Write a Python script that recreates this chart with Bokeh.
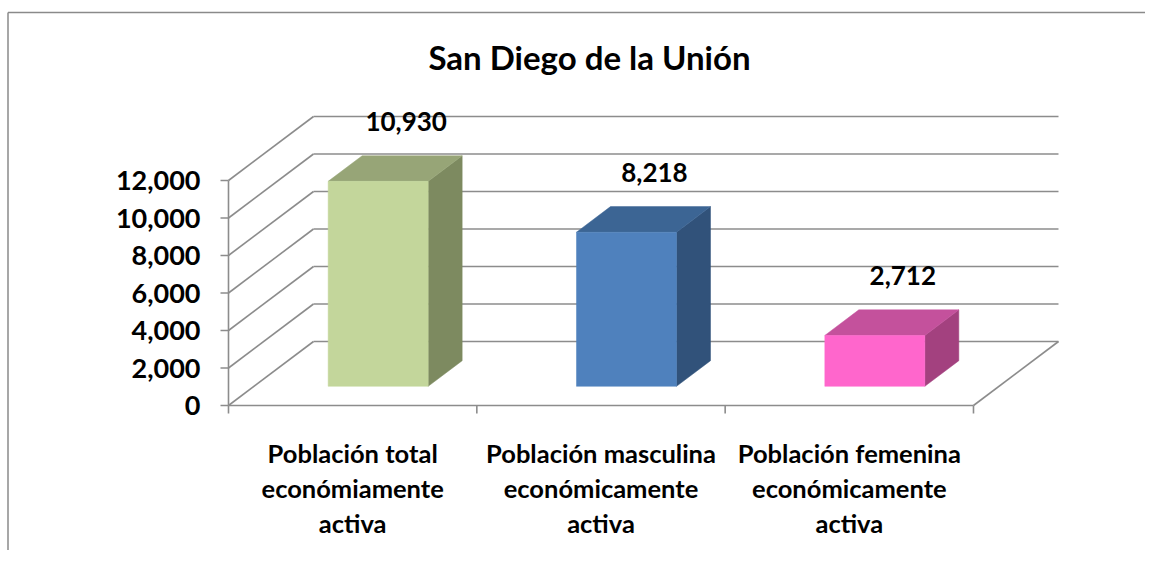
from bokeh.plotting import figure
from bokeh.models import Range1d
from bokeh.core.properties import value
from bokeh.embed import file_html
from bokeh.resources import INLINE

# ---- data ----
title_text = "San Diego de la Unión"
categories = [
    ["Población total", "económiamente", "activa"],
    ["Población masculina", "económicamente", "activa"],
    ["Población femenina", "económicamente", "activa"],
]
values = [10930, 8218, 2712]
value_labels = ["10,930", "8,218", "2,712"]
y_ticks = [0, 2000, 4000, 6000, 8000, 10000, 12000]
y_tick_labels = ["0", "2,000", "4,000", "6,000", "8,000", "10,000", "12,000"]
front_colors = ["#C3D69B", "#4F81BD", "#FF66CC"]
top_colors = ["#97A577", "#3C6594", "#C4519C"]
side_colors = ["#7D8A60", "#31527A", "#A3417F"]

# ---- layout / scales ----
W, H = 1145, 550
X0PX, Y0PX = 228, 405          # pixel position of the origin (front axis / floor)
UX, UY = 248.33, 18.75 / 1000  # px per category, px per value unit
PX = 1 / UX                    # data x units per pixel
PY = 1 / UY                    # data y units per pixel
XS = -X0PX * PX
XE = XS + W * PX
YE = Y0PX * PY
YS = YE - H * PY
DX, DY = 85 * PX, 64 * PY      # 3D depth offset of the back wall
F0, F1 = 0.3, 0.7              # bar depth (front / back fraction)
BW = 100 * PX                  # bar width
FONT = value("Lato")
GRID = "#8C8C8C"

p = figure(width=W, height=H, x_range=Range1d(XS, XE), y_range=Range1d(YS, YE),
           output_backend="svg", toolbar_location=None, min_border=0)
p.axis.visible = False
p.grid.visible = False
p.outline_line_color = None
p.background_fill_color = "white"

n = len(values)
ymax = y_ticks[-1]

# chart border (left + top)
bx = XS + 7.5 * PX
by = YE - 12 * PY
p.segment(x0=[bx, bx], y0=[YS, by], x1=[bx, XE], y1=[by, by],
          line_color="#8A8A8A", line_width=1.5)

# walls: diagonal + back gridlines
p.segment(x0=[0] * len(y_ticks), y0=y_ticks, x1=[DX] * len(y_ticks),
          y1=[t + DY for t in y_ticks], line_color=GRID, line_width=1.6)
p.segment(x0=[DX] * len(y_ticks), y0=[t + DY for t in y_ticks], x1=[n + DX] * len(y_ticks),
          y1=[t + DY for t in y_ticks], line_color=GRID, line_width=1.6)
# floor front + right edge
p.segment(x0=[0, n], y0=[0, 0], x1=[n, n + DX], y1=[0, DY], line_color=GRID, line_width=1.6)
# front value axis
p.segment(x0=[0], y0=[0], x1=[0], y1=[ymax], line_color=GRID, line_width=1.6)
p.segment(x0=[-8 * PX] * len(y_ticks), y0=y_ticks, x1=[0] * len(y_ticks), y1=y_ticks,
          line_color=GRID, line_width=1.6)
# category ticks
p.segment(x0=list(range(n + 1)), y0=[0] * (n + 1), x1=list(range(n + 1)),
          y1=[-8 * PY] * (n + 1), line_color=GRID, line_width=1.6)

# y tick labels
p.text(x=[-28 * PX] * len(y_ticks), y=y_ticks, text=y_tick_labels, text_font=FONT,
       text_font_style="bold", text_font_size="27px", text_align="right",
       text_baseline="middle", text_color="black")

# bars
ddx, ddy = (F1 - F0) * DX, (F1 - F0) * DY
fx, fy, tx, ty, sx, sy = [], [], [], [], [], []
for i, v in enumerate(values):
    c = i + 0.5
    xl = c - BW / 2 + F0 * DX
    xr = c + BW / 2 + F0 * DX
    yb = F0 * DY
    yt = v + F0 * DY
    fx.append([xl, xr, xr, xl]); fy.append([yb, yb, yt, yt])
    tx.append([xl, xr, xr + ddx, xl + ddx]); ty.append([yt, yt, yt + ddy, yt + ddy])
    sx.append([xr, xr + ddx, xr + ddx, xr]); sy.append([yb, yb + ddy, yt + ddy, yt])
p.patches(xs=sx, ys=sy, fill_color=side_colors, line_color=side_colors, line_width=0.5)
p.patches(xs=tx, ys=ty, fill_color=top_colors, line_color=top_colors, line_width=0.5)
p.patches(xs=fx, ys=fy, fill_color=front_colors, line_color=front_colors, line_width=0.5)

# value labels
p.text(x=[i + 0.5 + F0 * DX + 28 * PX for i in range(n)],
       y=[v + F1 * DY + 34 * PY for v in values], text=value_labels, text_font=FONT,
       text_font_style="bold", text_font_size="26px", text_align="center",
       text_baseline="middle", text_color="black")

# category labels (one row per line)
lx, ly, lt = [], [], []
for i, lines in enumerate(categories):
    for j, s in enumerate(lines):
        lx.append(i + 0.5)
        ly.append(-(47 + 35 * j) * PY)
        lt.append(s)
p.text(x=lx, y=ly, text=lt, text_font=FONT, text_font_style="bold", text_font_size="25.5px",
       text_align="center", text_baseline="middle", text_color="black")

# title
p.text(x=[(589 - X0PX) * PX], y=[(Y0PX - 56) * PY], text=[title_text], text_font=FONT,
       text_font_style="bold", text_font_size="33px", text_align="center",
       text_baseline="middle", text_color="black")

open("out.html", "w").write(file_html(p, INLINE))
